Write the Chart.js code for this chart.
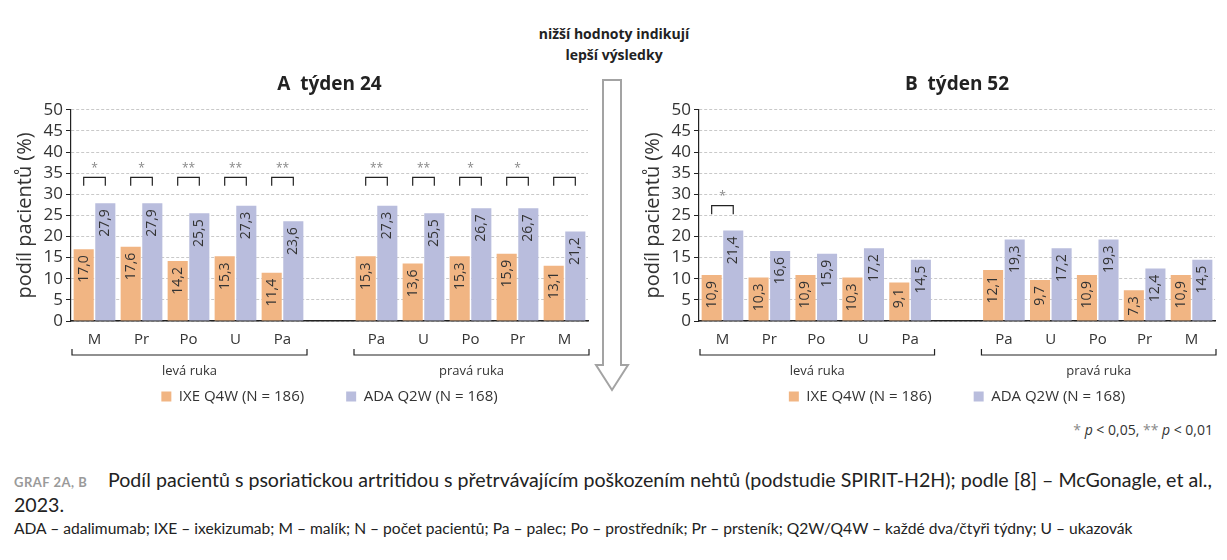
<!DOCTYPE html>
<html lang="cs">
<head>
<meta charset="utf-8">
<script src="https://cdn.jsdelivr.net/npm/chart.js@4.4.1/dist/chart.umd.min.js"></script>
<style>
    body { margin: 0; width: 1227px; height: 560px; background: #fff; position: relative; overflow: hidden; font-family: 'Open Sans', sans-serif; color: #222; }
    .box { position: absolute; }
    #boxA { left: 0; top: 60px; width: 600px; height: 360px; }
    #boxB { left: 628px; top: 60px; width: 599px; height: 360px; }
    #note { position: absolute; left: 514px; top: 23px; width: 200px; text-align: center; font-weight: bold; font-size: 14px; line-height: 21px; color: #222; }
    #arrow { position: absolute; left: 590px; top: 75px; }
    #pnote { position: absolute; right: 14px; top: 420px; font-size: 14px; color: #333; }
    #pnote .st { color: #888; }
    .cap { position: absolute; white-space: nowrap; font-family: Lato, sans-serif; color: #222; }
    #cap1 { left: 14px; top: 468px; font-size: 19.6px; }
    #cap1 .tag { display: inline-block; width: 94px; font-size: 13px; color: #9a9a9a; font-weight: bold; letter-spacing: 0.5px; }
    #cap2 { left: 14px; top: 493px; font-size: 19.6px; }
    #cap3 { left: 14px; top: 519px; font-size: 15.6px; }
</style>
</head>
<body>
<div id="note">nižší hodnoty indikují<br>lepší výsledky</div>
<svg id="arrow" width="50" height="320">
    <path d="M13 5 L31 5 L31 290 L38 290 L22 315 L6 290 L13 290 Z" fill="#fff" stroke="#a3a3a3" stroke-width="2"/>
</svg>
<div class="box" id="boxA"><canvas id="chartA"></canvas></div>
<div class="box" id="boxB"><canvas id="chartB"></canvas></div>
<div id="pnote"><span class="st">*</span> <i>p</i> &lt; 0,05, <span class="st">**</span> <i>p</i> &lt; 0,01</div>
<div class="cap" id="cap1"><span class="tag">GRAF 2A, B</span>Podíl pacientů s psoriatickou artritidou s přetrvávajícím poškozením nehtů (podstudie SPIRIT-H2H); podle [8] – McGonagle, et al.,</div>
<div class="cap" id="cap2">2023.</div>
<div class="cap" id="cap3">ADA – adalimumab; IXE – ixekizumab; M – malík; N – počet pacientů; Pa – palec; Po – prostředník; Pr – prsteník; Q2W/Q4W – každé dva/čtyři týdny; U – ukazovák</div>
<script>
const fingers = ['M', 'Pr', 'Po', 'U', 'Pa', '', 'Pa', 'U', 'Po', 'Pr', 'M'];
const hands = ['levá ruka', 'pravá ruka'];
const handFirst = [0, 6];
const handLast = [4, 10];
const seriesNames = ['IXE Q4W (N = 186)', 'ADA Q2W (N = 168)'];

const ixeWeek24 = [17.0, 17.6, 14.2, 15.3, 11.4, null, 15.3, 13.6, 15.3, 15.9, 13.1];
const adaWeek24 = [27.9, 27.9, 25.5, 27.3, 23.6, null, 27.3, 25.5, 26.7, 26.7, 21.2];
const ixeWeek52 = [10.9, 10.3, 10.9, 10.3, 9.1, null, 12.1, 9.7, 10.9, 7.3, 10.9];
const adaWeek52 = [21.4, 16.6, 15.9, 17.2, 14.5, null, 19.3, 17.2, 19.3, 12.4, 14.5];

// null = no bracket, '' = bracket without stars
const sigWeek24 = ['*', '*', '**', '**', '**', null, '**', '**', '*', '*', ''];
const sigWeek52 = ['*', null, null, null, null, null, null, null, null, null, null];

const yMin = 0;
const yMax = 50;
const yStep = 5;

const ixeColor = '#f1b583';
const adaColor = '#b9bddd';
const textColor = '#333';

Chart.defaults.font.family = "'Open Sans', sans-serif";
Chart.defaults.color = textColor;

const barValues = {
    id: 'barValues',
    afterDatasetsDraw(chart) {
        const ctx = chart.ctx;
        ctx.save();
        ctx.font = '14px "Open Sans", sans-serif';
        ctx.fillStyle = textColor;
        ctx.textAlign = 'right';
        ctx.textBaseline = 'middle';
        chart.data.datasets.forEach((ds, i) => {
            chart.getDatasetMeta(i).data.forEach((bar, j) => {
                const v = ds.data[j];
                if (v === null) return;
                ctx.save();
                ctx.translate(bar.x, bar.y + 6);
                ctx.rotate(-Math.PI / 2);
                ctx.fillText(v.toFixed(1).replace('.', ','), 0, 0);
                ctx.restore();
            });
        });
        ctx.restore();
    },
};

const sigBrackets = {
    id: 'sigBrackets',
    afterDatasetsDraw(chart, args, opts) {
        const ctx = chart.ctx;
        const y = chart.scales.y;
        const m0 = chart.getDatasetMeta(0).data;
        const m1 = chart.getDatasetMeta(1).data;
        const yTop = y.getPixelForValue(opts.level);
        const yLeg = y.getPixelForValue(opts.level - 2);
        const yStar = y.getPixelForValue(opts.level + 2.2);
        ctx.save();
        ctx.strokeStyle = '#222';
        ctx.lineWidth = 1.2;
        ctx.fillStyle = '#888';
        ctx.font = '12px "Open Sans", sans-serif';
        ctx.textAlign = 'center';
        ctx.textBaseline = 'middle';
        opts.marks.forEach((mark, j) => {
            if (mark === null) return;
            const x1 = m0[j].x;
            const x2 = m1[j].x;
            ctx.beginPath();
            ctx.moveTo(x1, yLeg);
            ctx.lineTo(x1, yTop);
            ctx.lineTo(x2, yTop);
            ctx.lineTo(x2, yLeg);
            ctx.stroke();
            if (mark) ctx.fillText(mark, (x1 + x2) / 2, yStar);
        });
        ctx.restore();
    },
};

const handBrackets = {
    id: 'handBrackets',
    afterDraw(chart) {
        const ctx = chart.ctx;
        const x = chart.scales.x;
        const step = x.width / fingers.length;
        const yLine = chart.chartArea.bottom + 34;
        ctx.save();
        ctx.strokeStyle = '#222';
        ctx.lineWidth = 1.2;
        ctx.fillStyle = textColor;
        ctx.font = '13px "Open Sans", sans-serif';
        ctx.textAlign = 'center';
        ctx.textBaseline = 'middle';
        hands.forEach((name, k) => {
            const xl = x.getPixelForValue(handFirst[k]) - step / 2 + 1;
            const xr = x.getPixelForValue(handLast[k]) + step / 2 + 1;
            ctx.beginPath();
            ctx.moveTo(xl, yLine - 6);
            ctx.lineTo(xl, yLine);
            ctx.lineTo(xr, yLine);
            ctx.lineTo(xr, yLine - 6);
            ctx.stroke();
            ctx.fillText(name, (xl + xr) / 2, yLine + 16);
        });
        ctx.restore();
    },
};

function makeChart(canvasId, title, ixe, ada, marks, level) {
    const ctx = document.getElementById(canvasId).getContext('2d');
    return new Chart(ctx, {
        type: 'bar',
        data: {
            labels: fingers,
            datasets: [
                { label: seriesNames[0], data: ixe, backgroundColor: ixeColor, borderWidth: 0 },
                { label: seriesNames[1], data: ada, backgroundColor: adaColor, borderWidth: 0 },
            ],
        },
        options: {
            responsive: true,
            maintainAspectRatio: false,
            animation: false,
            datasets: { bar: { categoryPercentage: 0.92, barPercentage: 0.93 } },
            layout: { padding: { left: 0, right: 12, top: 0, bottom: 6 } },
            scales: {
                x: {
                    grid: { display: false, drawTicks: false },
                    border: { color: '#222', width: 1.5 },
                    ticks: { font: { size: 15 }, color: textColor, padding: 10, autoSkip: false, maxRotation: 0 },
                    afterFit: (scale) => { scale.height = 26; },
                },
                y: {
                    min: yMin,
                    max: yMax,
                    ticks: { stepSize: yStep, autoSkip: false, font: { size: 17, lineHeight: 1 }, color: textColor, padding: 3 },
                    grid: { color: '#c9c9c9', lineWidth: 1, tickColor: '#222', tickLength: 5, drawTicks: true },
                    border: { color: '#222', width: 1.2, dash: [3, 2] },
                    title: { display: true, text: 'podíl pacientů (%)', font: { size: 20 }, color: textColor, padding: { top: 13, bottom: 0 } },
                    afterFit: (scale) => { scale.width = 71; },
                },
            },
            plugins: {
                title: {
                    display: true,
                    text: title,
                    fullSize: false,
                    font: { size: 19, weight: 'bold' },
                    color: '#222',
                    padding: { top: 13, bottom: 14 },
                },
                legend: {
                    position: 'bottom',
                    fullSize: false,
                    labels: { boxWidth: 10, boxHeight: 10, padding: 42, font: { size: 15 }, color: textColor },
                },
                tooltip: { enabled: false },
                sigBrackets: { marks: marks, level: level },
            },
        },
        plugins: [barValues, sigBrackets, handBrackets],
    });
}

makeChart('chartA', 'A  týden 24', ixeWeek24, adaWeek24, sigWeek24, 34);
makeChart('chartB', 'B  týden 52', ixeWeek52, adaWeek52, sigWeek52, 27.3);
</script>
</body>
</html>
